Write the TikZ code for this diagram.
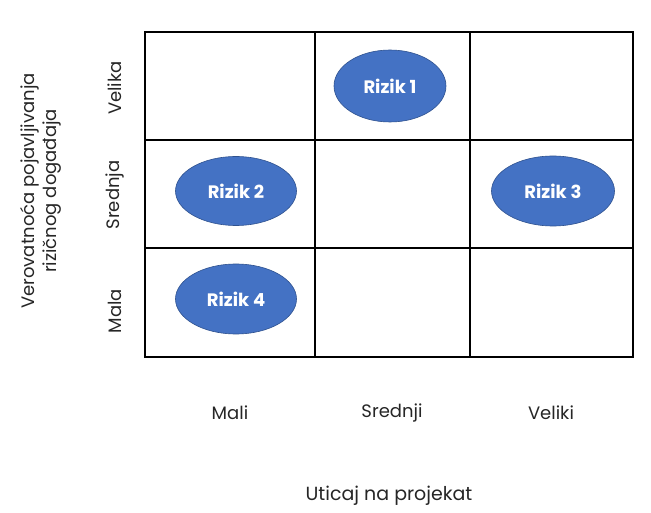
\documentclass[tikz,border=0pt]{standalone}
\usepackage{fontspec}
\setmainfont{Poppins}
\usetikzlibrary{shapes.geometric}
\definecolor{riskfill}{HTML}{4472C4}
\definecolor{riskline}{HTML}{2F528F}
\begin{document}
\begin{tikzpicture}[x=1pt,y=-1pt,
  gridline/.style={draw=black,line width=1.1pt},
  risk/.style={ellipse,fill=riskfill,draw=riskline,line width=0.6pt,inner sep=0pt,
    text=white,font=\fontsize{18}{21}\selectfont\bfseries},
  axlab/.style={font=\fontsize{18}{21}\selectfont,text=black!85},
  ttl/.style={font=\fontsize{18}{22}\selectfont,text=black!85,align=center}]
\useasboundingbox (0,0) rectangle (651,513);
\fill[white] (0,0) rectangle (651,513);
% grid
\draw[gridline] (145,32) rectangle (633,357);
\draw[gridline] (315,32) -- (315,357);
\draw[gridline] (470,32) -- (470,357);
\draw[gridline] (145,140) -- (633,140);
\draw[gridline] (145,248) -- (633,248);
% risks
\node[risk,minimum width=112pt,minimum height=72pt] (r1) at (390,86) {Rizik 1};
\node[risk,minimum width=121pt,minimum height=69pt] (r2) at (236,191) {Rizik 2};
\node[risk,minimum width=123pt,minimum height=70pt] (r3) at (553,191) {Rizik 3};
\node[risk,minimum width=121pt,minimum height=70pt] (r4) at (236,299) {Rizik 4};
% y labels
\node[axlab,rotate=90] (vel) at (115,88) {Velika};
\node[axlab,rotate=90] (sre) at (115,195) {Srednja};
\node[axlab,rotate=90] (mal) at (115,311) {Mala};
\node[ttl,rotate=90] (ytitle) at (41,191) {Verovatnoća pojavljivanja\\rizičnog događaja};
% x labels
\node[axlab] (xmali) at (230,413) {Mali};
\node[axlab] (xsre) at (392,413) {Srednji};
\node[axlab] (xvel) at (551,413) {Veliki};
\node[axlab,font=\fontsize{19}{22}\selectfont] (xtitle) at (389,496) {Uticaj na projekat};
\end{tikzpicture}
\end{document}
